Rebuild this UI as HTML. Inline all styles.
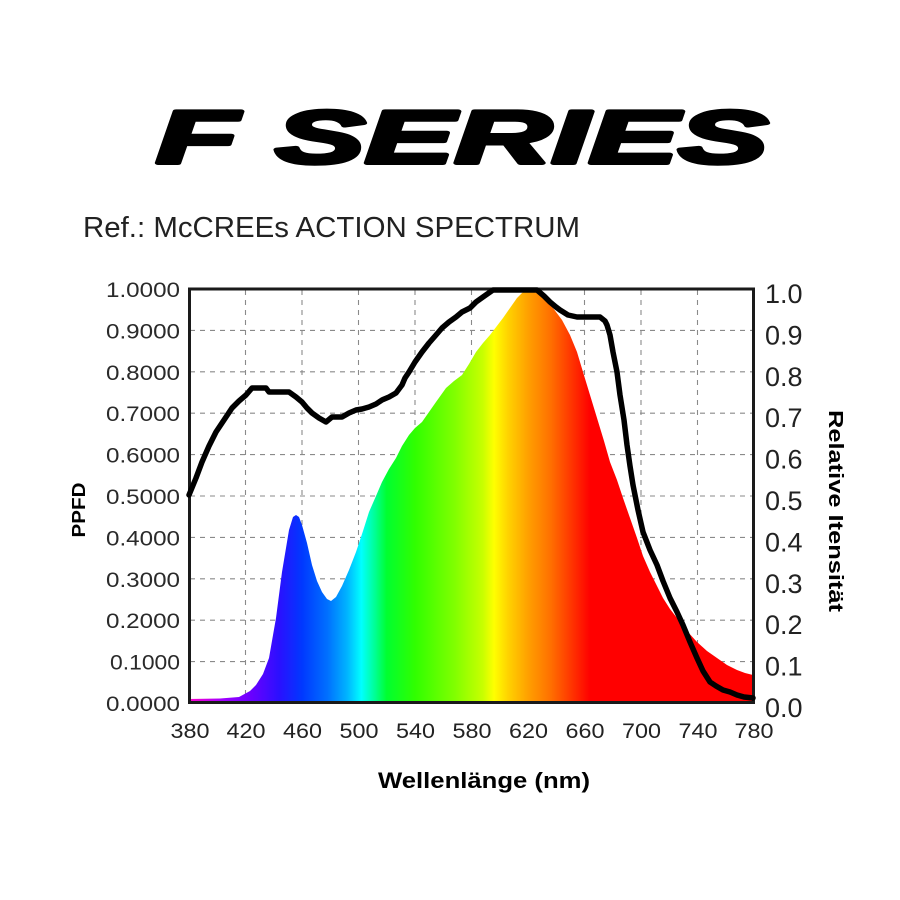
<!DOCTYPE html>
<html>
<head>
<meta charset="utf-8">
<style>
  html, body { margin:0; padding:0; background:#ffffff; }
  body { width:900px; height:900px; overflow:hidden; }
  svg { display:block; }
  text { font-family: "Liberation Sans", "DejaVu Sans", sans-serif; }
</style>
</head>
<body>
<svg width="900" height="900" viewBox="0 0 900 900" xmlns="http://www.w3.org/2000/svg">
  <defs>
    <linearGradient id="spec" gradientUnits="userSpaceOnUse" x1="189" y1="0" x2="754" y2="0">
      <stop offset="0" stop-color="#ff00cc"/>
      <stop offset="0.06" stop-color="#a000ff"/>
      <stop offset="0.11" stop-color="#6a00ff"/>
      <stop offset="0.16" stop-color="#2a10ff"/>
      <stop offset="0.20" stop-color="#0038ff"/>
      <stop offset="0.245" stop-color="#0070ff"/>
      <stop offset="0.28" stop-color="#00b4ff"/>
      <stop offset="0.305" stop-color="#00ffff"/>
      <stop offset="0.33" stop-color="#00ff90"/>
      <stop offset="0.35" stop-color="#00ff30"/>
      <stop offset="0.40" stop-color="#30ff00"/>
      <stop offset="0.47" stop-color="#80ff00"/>
      <stop offset="0.52" stop-color="#c8ff00"/>
      <stop offset="0.54" stop-color="#ffff00"/>
      <stop offset="0.565" stop-color="#ffd200"/>
      <stop offset="0.60" stop-color="#ffa000"/>
      <stop offset="0.64" stop-color="#ff7000"/>
      <stop offset="0.68" stop-color="#ff3000"/>
      <stop offset="0.71" stop-color="#ff0000"/>
      <stop offset="1" stop-color="#ff0000"/>
    </linearGradient>
  </defs>

  <!-- Title -->
  <text x="156" y="163" font-size="75" font-weight="bold" font-style="italic" fill="#000" stroke="#000" stroke-width="4" stroke-linejoin="round" textLength="612" lengthAdjust="spacingAndGlyphs">F SERIES</text>

  <!-- Subtitle -->
  <text x="83" y="237" font-size="29" fill="#222" textLength="497" lengthAdjust="spacingAndGlyphs">Ref.: McCREEs ACTION SPECTRUM</text>

  <!-- Grid -->
  <g stroke="#8a8a8a" stroke-width="1.1" stroke-dasharray="5,5" fill="none">
    <line x1="245.5" y1="290" x2="245.5" y2="702"/>
    <line x1="302" y1="290" x2="302" y2="702"/>
    <line x1="358.5" y1="290" x2="358.5" y2="702"/>
    <line x1="415" y1="290" x2="415" y2="702"/>
    <line x1="471.5" y1="290" x2="471.5" y2="702"/>
    <line x1="528" y1="290" x2="528" y2="702"/>
    <line x1="584.5" y1="290" x2="584.5" y2="702"/>
    <line x1="641" y1="290" x2="641" y2="702"/>
    <line x1="697.5" y1="290" x2="697.5" y2="702"/>
    <line x1="190" y1="330.4" x2="753" y2="330.4"/>
    <line x1="190" y1="371.8" x2="753" y2="371.8"/>
    <line x1="190" y1="413.2" x2="753" y2="413.2"/>
    <line x1="190" y1="454.6" x2="753" y2="454.6"/>
    <line x1="190" y1="496" x2="753" y2="496"/>
    <line x1="190" y1="537.4" x2="753" y2="537.4"/>
    <line x1="190" y1="578.8" x2="753" y2="578.8"/>
    <line x1="190" y1="620.2" x2="753" y2="620.2"/>
    <line x1="190" y1="661.6" x2="753" y2="661.6"/>
  </g>

  <!-- Spectrum fill -->
  <path fill="url(#spec)" d="M189,703 L189,699 L220,698.5 L239,697 L250,691 L256,685 L263,674 L269,658 L276,618 L282,572 L289,530 L293,517 L296,515 L299,517 L302,525 L307,543 L312,565 L317,581 L322,592 L327,599 L331,601 L336,597 L342,586 L349,570 L356,552 L363,531 L369,512 L376,496 L382,482 L389,469 L396,458 L402,446 L409,435 L415,428 L422,422 L429,412 L436,402 L446,388 L454,381 L462,375 L469,364 L476,352 L483,343 L490,335 L503,318 L510,308 L517,298 L522,293 L527,290 L532,290 L537,292 L545,299 L553,308 L562,320 L570,335 L577,352 L583,372 L590,395 L597,418 L604,441 L610,462 L617,480 L623,498 L630,518 L637,538 L643,556 L650,572 L657,586 L663,598 L670,609 L677,618 L687,631 L697,642 L707,651 L717,658 L727,665 L737,670 L745,673 L753,675 L753,703 Z"/>

  <!-- Frame -->
  <rect x="189.5" y="289" width="564" height="413.5" fill="none" stroke="#1a1a1a" stroke-width="3"/>

  <!-- Black action spectrum curve -->
  <path fill="none" stroke="#000" stroke-width="5.5" stroke-linejoin="round" stroke-linecap="round" d="M189,495 L196,478 L202,462 L209,446 L216,432 L224,420 L232,408 L239,401 L246,395 L252,388 L266,388 L269,392 L289,392 L296,397 L302,402 L307,408 L312,413 L319,418 L326,422 L332,417 L342,417 L349,413 L356,410 L362,409 L369,407 L376,404 L382,400 L389,397 L396,393 L402,385 L405,378 L409,372 L415,362 L422,352 L429,343 L436,335 L442,328 L449,322 L456,317 L462,312 L470,308 L476,302 L483,297 L493,290 L537,290 L544,296 L550,302 L556,307 L560,310 L568,315 L577,317 L600,317 L605,321 L607,325 L610,335 L613,352 L617,372 L620,395 L624,420 L627,445 L630,466 L633,485 L638,510 L643,532 L650,550 L657,565 L663,581 L670,598 L677,612 L683,625 L690,642 L697,658 L703,671 L710,682 L716,686 L723,690 L730,692 L737,695 L744,697 L753,698"/>

  <!-- Left axis labels -->
  <g font-size="21" fill="#2a2a2a" text-anchor="end">
    <text x="180" y="297" textLength="74" lengthAdjust="spacingAndGlyphs">1.0000</text>
    <text x="180" y="338.4" textLength="74" lengthAdjust="spacingAndGlyphs">0.9000</text>
    <text x="180" y="379.8" textLength="74" lengthAdjust="spacingAndGlyphs">0.8000</text>
    <text x="180" y="421.2" textLength="74" lengthAdjust="spacingAndGlyphs">0.7000</text>
    <text x="180" y="462.6" textLength="74" lengthAdjust="spacingAndGlyphs">0.6000</text>
    <text x="180" y="504" textLength="74" lengthAdjust="spacingAndGlyphs">0.5000</text>
    <text x="180" y="545.4" textLength="74" lengthAdjust="spacingAndGlyphs">0.4000</text>
    <text x="180" y="586.8" textLength="74" lengthAdjust="spacingAndGlyphs">0.3000</text>
    <text x="180" y="628.2" textLength="74" lengthAdjust="spacingAndGlyphs">0.2000</text>
    <text x="180" y="669.6" textLength="70" lengthAdjust="spacingAndGlyphs">0.1000</text>
    <text x="180" y="711" textLength="74" lengthAdjust="spacingAndGlyphs">0.0000</text>
  </g>

  <!-- Right axis labels -->
  <g font-size="27" fill="#222">
    <text x="765" y="303">1.0</text>
    <text x="765" y="344.4">0.9</text>
    <text x="765" y="385.8">0.8</text>
    <text x="765" y="427.2">0.7</text>
    <text x="765" y="468.6">0.6</text>
    <text x="765" y="510">0.5</text>
    <text x="765" y="551.4">0.4</text>
    <text x="765" y="592.8">0.3</text>
    <text x="765" y="634.2">0.2</text>
    <text x="765" y="675.6">0.1</text>
    <text x="765" y="717">0.0</text>
  </g>

  <!-- X axis labels -->
  <g font-size="21" fill="#222" text-anchor="middle">
    <text x="190" y="738" textLength="39" lengthAdjust="spacingAndGlyphs">380</text>
    <text x="246" y="738" textLength="39" lengthAdjust="spacingAndGlyphs">420</text>
    <text x="302.5" y="738" textLength="39" lengthAdjust="spacingAndGlyphs">460</text>
    <text x="359" y="738" textLength="39" lengthAdjust="spacingAndGlyphs">500</text>
    <text x="415.5" y="738" textLength="39" lengthAdjust="spacingAndGlyphs">540</text>
    <text x="472" y="738" textLength="39" lengthAdjust="spacingAndGlyphs">580</text>
    <text x="528.5" y="738" textLength="39" lengthAdjust="spacingAndGlyphs">620</text>
    <text x="585" y="738" textLength="39" lengthAdjust="spacingAndGlyphs">660</text>
    <text x="641.5" y="738" textLength="39" lengthAdjust="spacingAndGlyphs">700</text>
    <text x="698" y="738" textLength="39" lengthAdjust="spacingAndGlyphs">740</text>
    <text x="754" y="738" textLength="39" lengthAdjust="spacingAndGlyphs">780</text>
  </g>

  <!-- Axis titles -->
  <text x="85" y="510" font-size="18" font-weight="bold" fill="#000" text-anchor="middle" transform="rotate(-90 85 510)" textLength="55" lengthAdjust="spacingAndGlyphs">PPFD</text>
  <text x="511" y="-829" font-size="20" font-weight="bold" fill="#000" text-anchor="middle" transform="rotate(90)" textLength="202" lengthAdjust="spacingAndGlyphs">Relative Itensität</text>
  <text x="378" y="788" font-size="22" font-weight="bold" fill="#000" textLength="212" lengthAdjust="spacingAndGlyphs">Wellenlänge (nm)</text>
</svg>
</body>
</html>
